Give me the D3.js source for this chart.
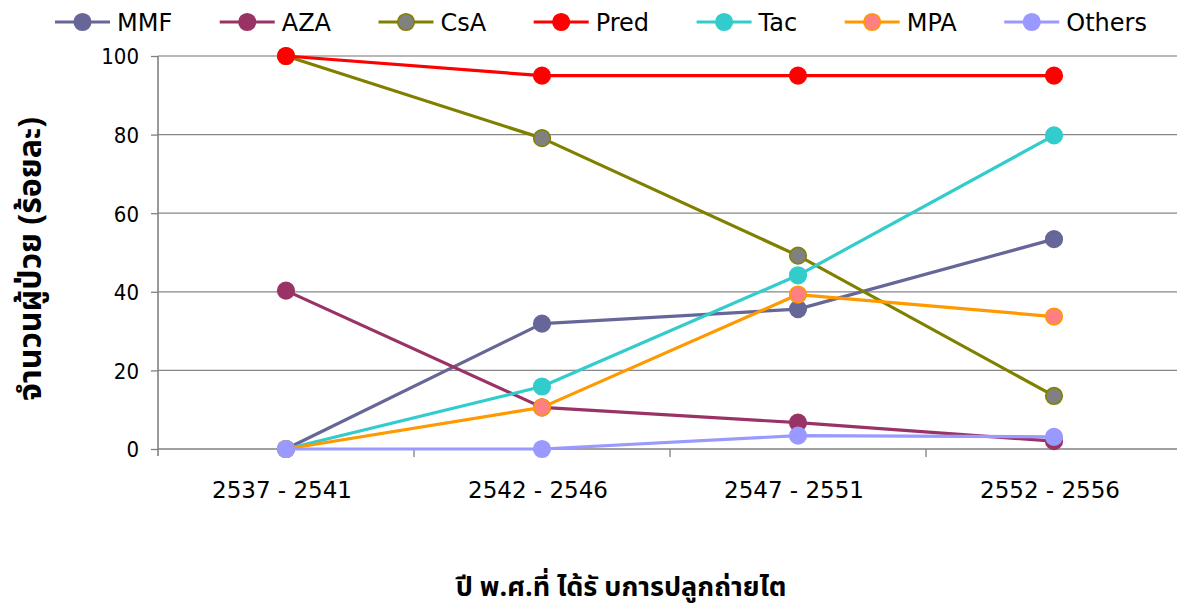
<!DOCTYPE html>
<html>
<head>
<meta charset="utf-8">
<script src="https://cdn.jsdelivr.net/npm/d3@7"></script>
<style>
  html, body { margin: 0; padding: 0; background: #fff; }
  svg { display: block; }
</style>
</head>
<body>
<svg id="chart" width="1177" height="609"></svg>
<script>
// Transplant periods (Buddhist era years)
const periods = ["2537 - 2541", "2542 - 2546", "2547 - 2551", "2552 - 2556"];

// Percentage of patients receiving each immunosuppressant, per period
const mmf    = [0, 31.9, 35.6, 53.4];
const aza    = [40.3, 10.6, 6.7, 2.0];
const csa    = [100, 79.1, 49.2, 13.5];
const pred   = [100, 95, 95, 95];
const tac    = [0, 15.9, 44.2, 79.8];
const mpa    = [0, 10.6, 39.3, 33.7];
const others = [0, 0, 3.4, 3.1];

const seriesNames = ["MMF", "AZA", "CsA", "Pred", "Tac", "MPA", "Others"];
const yTicks = [0, 20, 40, 60, 80, 100];

const yTitle = "จำนวนผู้ป่วย (ร้อยละ)";
const xTitle = "ปี พ.ศ.ที่ ได้รั บการปลูกถ่ายไต";

const series = [
  { name: seriesNames[0], values: mmf,    line: "#666699", fill: "#666699", stroke: "#666699" },
  { name: seriesNames[1], values: aza,    line: "#993366", fill: "#993366", stroke: "#993366" },
  { name: seriesNames[2], values: csa,    line: "#808000", fill: "#808080", stroke: "#808000" },
  { name: seriesNames[3], values: pred,   line: "#FF0000", fill: "#FF0000", stroke: "#FF0000" },
  { name: seriesNames[4], values: tac,    line: "#33CCCC", fill: "#33CCCC", stroke: "#33CCCC" },
  { name: seriesNames[5], values: mpa,    line: "#FF9900", fill: "#FF8080", stroke: "#FF9900" },
  { name: seriesNames[6], values: others, line: "#9999FF", fill: "#9999FF", stroke: "#9999FF" }
];

const svg = d3.select("#chart");
const plot = { left: 158, right: 1182, top: 56, bottom: 449 };

const x = d3.scaleBand().domain(periods).range([plot.left, plot.right]).padding(0);
const y = d3.scaleLinear().domain([0, 100]).range([plot.bottom, plot.top]);

// Horizontal gridlines
svg.append("g")
  .selectAll("line")
  .data(yTicks.filter(t => t > 0))
  .join("line")
  .attr("x1", plot.left).attr("x2", plot.right)
  .attr("y1", d => y(d)).attr("y2", d => y(d))
  .attr("stroke", d => d === 100 ? "#a0a0a0" : "#868686")
  .attr("stroke-width", d => d === 100 ? 1.6 : 1.2);

// Y axis
const yAxis = svg.append("g")
  .attr("transform", `translate(${plot.left},0)`)
  .call(d3.axisLeft(y).tickValues(yTicks).tickSize(7).tickPadding(12));
yAxis.select(".domain").attr("stroke", "#808080").attr("stroke-width", 1.6)
  .attr("d", `M0,${plot.top}V${plot.bottom + 7}`);
yAxis.selectAll(".tick line").attr("stroke", "#808080").attr("stroke-width", 1.3);
yAxis.selectAll(".tick text")
  .attr("font-family", "'DejaVu Sans Condensed', 'DejaVu Sans', sans-serif")
  .attr("font-size", 22).attr("fill", "#000").attr("dy", "0.36em");

// X axis: ticks sit at the category boundaries
const bounds = periods.map(p => x(p)).concat([plot.right]);
svg.append("line")
  .attr("x1", plot.left).attr("x2", plot.right)
  .attr("y1", y(0)).attr("y2", y(0))
  .attr("stroke", "#808080").attr("stroke-width", 1.6);
svg.append("g").selectAll("line")
  .data(bounds.slice(1))
  .join("line")
  .attr("x1", d => d).attr("x2", d => d)
  .attr("y1", y(0)).attr("y2", y(0) + 8)
  .attr("stroke", "#808080").attr("stroke-width", 1.3);
svg.append("g").selectAll("text")
  .data(periods)
  .join("text")
  .attr("x", d => x(d) + x.bandwidth() / 2 - 4)
  .attr("y", 498)
  .attr("text-anchor", "middle")
  .attr("font-family", "'DejaVu Sans', sans-serif")
  .attr("font-size", 23)
  .attr("fill", "#000")
  .text(d => d);

// Series lines and markers
const line = d3.line()
  .x((d, i) => x(periods[i]) + x.bandwidth() / 2)
  .y(d => y(d));

series.forEach(s => {
  const g = svg.append("g");
  g.append("path")
    .attr("d", line(s.values))
    .attr("fill", "none")
    .attr("stroke", s.line)
    .attr("stroke-width", 3.2)
    .attr("stroke-linejoin", "round");
  g.selectAll("circle")
    .data(s.values)
    .join("circle")
    .attr("cx", (d, i) => x(periods[i]) + x.bandwidth() / 2)
    .attr("cy", d => y(d))
    .attr("r", 8.3)
    .attr("fill", s.fill)
    .attr("stroke", s.stroke)
    .attr("stroke-width", 1.6);
});

// Legend across the top, items spaced by their text width
const legend = svg.append("g");
let lx = 55;
series.forEach(s => {
  const item = legend.append("g").attr("transform", `translate(${lx},22)`);
  item.append("line")
    .attr("x1", 0).attr("x2", 55).attr("y1", 0).attr("y2", 0)
    .attr("stroke", s.line).attr("stroke-width", 3.2);
  item.append("circle")
    .attr("cx", 27.5).attr("cy", 0).attr("r", 8.3)
    .attr("fill", s.fill).attr("stroke", s.stroke).attr("stroke-width", 1.6);
  const t = item.append("text")
    .attr("x", 62).attr("y", 0).attr("dy", "0.36em")
    .attr("font-family", "'DejaVu Sans', sans-serif")
    .attr("font-size", 24).attr("fill", "#000")
    .text(s.name);
  lx += 62 + t.node().getComputedTextLength() + 47.5;
});

// Axis titles
svg.append("text")
  .attr("transform", `translate(41,259) rotate(-90)`)
  .attr("text-anchor", "middle")
  .attr("font-family", "Tahoma, 'Noto Sans Thai', 'Noto Sans', 'DejaVu Sans', sans-serif")
  .attr("font-weight", "bold")
  .attr("font-size", 32)
  .attr("fill", "#000")
  .text(yTitle);

svg.append("text")
  .attr("x", 621).attr("y", 596)
  .attr("text-anchor", "middle")
  .attr("font-family", "Tahoma, 'Noto Sans Thai', 'Noto Sans', 'DejaVu Sans', sans-serif")
  .attr("font-weight", "bold")
  .attr("font-size", 27)
  .attr("fill", "#000")
  .text(xTitle);
</script>
</body>
</html>
